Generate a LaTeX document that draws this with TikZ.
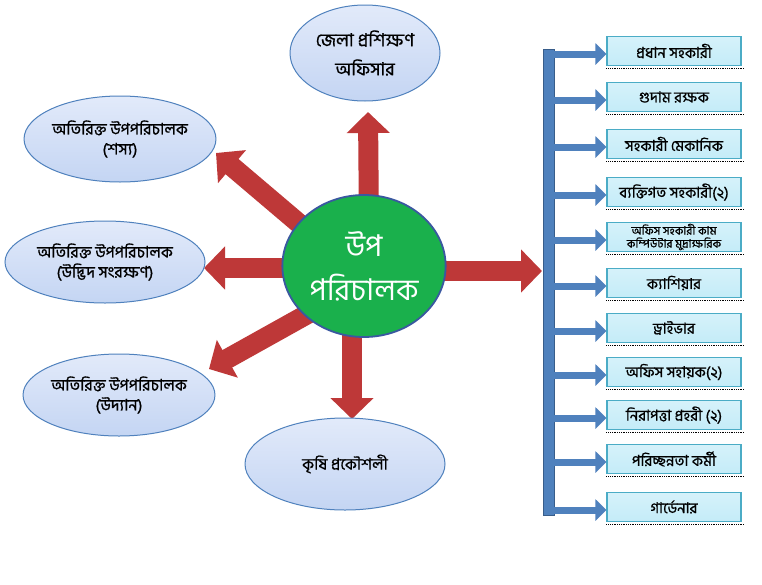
\documentclass[tikz,border=0pt]{standalone}
\usepackage{fontspec}
\newfontfamily\bn[Script=Bengali]{Hind Siliguri}
\newfontfamily\bnb[Script=Bengali,FakeBold=0.8]{Hind Siliguri}
\usetikzlibrary{arrows.meta,shapes.geometric}
\definecolor{ovalfill}{RGB}{196,213,243}
\definecolor{ovaltop}{RGB}{226,234,250}
\definecolor{ovalline}{RGB}{79,129,189}
\definecolor{fatred}{RGB}{190,56,56}
\definecolor{ccgreen}{RGB}{26,176,76}
\definecolor{ccline}{RGB}{58,88,160}
\definecolor{barblue}{RGB}{79,129,189}
\definecolor{barline}{RGB}{56,93,138}
\definecolor{boxfill}{RGB}{196,236,248}
\definecolor{boxline}{RGB}{75,172,198}
\begin{document}
\begin{tikzpicture}[x=1pt,y=-1pt,
  oval/.style={ellipse, draw=ovalline, line width=1pt, top color=ovaltop, bottom color=ovalfill,
    align=center, inner sep=0pt, font=\bnb\fontsize{16}{20}\selectfont},
  fatarrow/.style={draw=fatred, line width=20pt, -{Triangle[length=21pt,width=42pt]}},
  barrow/.style={draw=barblue, line width=7pt, -{Triangle[length=11pt,width=21pt]}},
  staff/.style={rectangle, draw=boxline, line width=1.2pt, top color=boxfill!70!white, bottom color=boxfill,
    minimum width=134pt, minimum height=29pt, inner sep=0pt, align=center,
    font=\bnb\fontsize{15}{16}\selectfont},
  bar/.style={rectangle, fill=barblue, draw=barline, line width=0.6pt, minimum width=11pt, minimum height=466pt, inner sep=0pt}
]
\useasboundingbox (0,0) rectangle (762,584);
\fill[white] (0,0) rectangle (762,584);

\coordinate (c0) at (364,266);
% arrow starts (hidden under the circle) and tips
\coordinate (sup) at (369,230);  \coordinate (tup) at (368,112);
\coordinate (sul) at (322,243);  \coordinate (tul) at (216,153);
\coordinate (sl)  at (320,268);  \coordinate (tl)  at (204,268);
\coordinate (sll) at (322,306);  \coordinate (tll) at (209,369);
\coordinate (sdn) at (352,300);  \coordinate (tdn) at (352,419);
\coordinate (srt) at (410,271);  \coordinate (trt) at (542,271);

\draw[fatarrow] (sup) -- (tup);
\draw[fatarrow] (sul) -- (tul);
\draw[fatarrow] (sl) -- (tl);
\draw[fatarrow] (sll) -- (tll);
\draw[fatarrow] (sdn) -- (tdn);
\draw[fatarrow] (srt) -- (trt);

\node[ellipse, fill=ccgreen, draw=ccline, line width=1.8pt, minimum width=162pt, minimum height=142pt,
  align=center, text=white, font=\bn\fontsize{30}{44}\selectfont] (cc) at (c0) {উপ\\পরিচালক};

\node[oval, minimum width=150pt, minimum height=96pt, font=\bnb\fontsize{18}{29}\selectfont] (top) at (365,53) {জেলা প্রশিক্ষণ\\অফিসার};
\node[oval, minimum width=190pt, minimum height=86pt] (o1) at (120,139) {অতিরিক্ত উপপরিচালক\\(শস্য)};
\node[oval, minimum width=200pt, minimum height=82pt] (o2) at (105,262) {অতিরিক্ত উপপরিচালক\\(উদ্ভিদ সংরক্ষণ)};
\node[oval, minimum width=190pt, minimum height=82pt] (o3) at (119,395) {অতিরিক্ত উপপরিচালক\\(উদ্যান)};
\node[oval, minimum width=200pt, minimum height=92pt] (o4) at (345,464) {কৃষি প্রকৌশলী};

% right column
\node[bar] (bar) at (549,282) {};
\foreach \n/\yy/\txt in {b1/51/প্রধান সহকারী, b2/97/গুদাম রক্ষক, b3/144/সহকারী মেকানিক,
   b4/192/ব্যক্তিগত সহকারী(২), b6/283/ক্যাশিয়ার, b7/328/ড্রাইভার,
   b8/372/অফিস সহায়ক(২), b9/415/নিরাপত্তা প্রহরী (২), b10/459/পরিচ্ছন্নতা কর্মী, b11/507/গার্ডেনার}{
  \node[staff] (\n) at (674,\yy) {\txt};
}
\node[staff, font=\bnb\fontsize{11.5}{13}\selectfont] (b5) at (674,237) {অফিস সহকারী কাম\\কম্পিউটার মুদ্রাক্ষরিক};
\foreach \n in {b1,b2,b3,b4,b5,b6,b7,b8,b9,b10,b11}{
  \draw[densely dotted, line width=0.8pt] ([shift={(0,2)}]\n.south west) -- ([shift={(3,2)}]\n.south east);
  \draw[barrow] ([yshift=-3pt]bar.center |- \n.west) -- ([yshift=-3pt]\n.west);
}
\end{tikzpicture}
\end{document}
